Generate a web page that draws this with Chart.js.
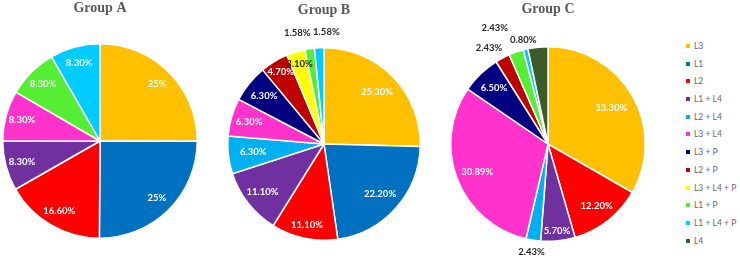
<!DOCTYPE html>
<html>
<head>
<meta charset="utf-8">
<script src="https://cdn.jsdelivr.net/npm/chart.js@4.4.1/dist/chart.umd.min.js"></script>
<style>
  html, body { margin: 0; padding: 0; background: #fff; }
  body { width: 740px; height: 258px; position: relative; overflow: hidden; }
  canvas { position: absolute; top: 0; }
  #legend { position: absolute; left: 686px; top: 41px; margin: 0; padding: 0; list-style: none;
    font: 8.5px Lato, "Liberation Sans", sans-serif; color: #666; }
  #legend li { height: 17.7px; line-height: 10px; white-space: nowrap; }
  #legend span { display: inline-block; width: 4px; height: 4px; margin-right: 4px; vertical-align: 1px; }
</style>
</head>
<body>
<canvas id="pieA" width="200" height="258" style="left:0px"></canvas>
<canvas id="pieB" width="200" height="258" style="left:224px"></canvas>
<canvas id="pieC" width="200" height="258" style="left:448px"></canvas>
<ul id="legend"></ul>
<script>
/* =====================
  Data
===================== */
var categories = ['L3', 'L1', 'L2', 'L1 + L4', 'L2 + L4', 'L3 + L4', 'L3 + P', 'L2 + P', 'L3 + L4 + P', 'L1 + P', 'L1 + L4 + P', 'L4']
var colors = ['#FFC000', '#0070C0', '#FF0000', '#7030A0', '#00B0F0', '#FF33CC', '#000080', '#C00000', '#FFFF00', '#55EE33', '#00CCFF', '#3B5B2A']

var groupA = [25, 25, 16.6, 8.3, 0, 8.3, 0, 0, 0, 8.3, 8.3, 0]
var groupB = [25.3, 22.2, 11.1, 11.1, 6.3, 6.3, 6.3, 4.7, 3.1, 1.58, 1.58, 0]
var groupC = [33.3, 0, 12.2, 5.7, 2.43, 30.89, 6.5, 2.43, 0, 2.43, 0.8, 3.3]

// L4 in group C carries no label in the original
var hiddenC = [11]

/* =====================
  Label placement (style only)
===================== */
// radius factor, x nudge, dark text
var styleA = { r: [0.83, 0.83, 0.83, 0.83, 0, 0.83, 0, 0, 0, 0.83, 0.83, 0] }
var styleB = {
  r: [0.77, 0.78, 0.86, 0.81, 0.74, 0.81, 0.8, 0.87, 0.87, 1.17, 1.17, 0],
  dx: { 9: -10, 10: 8 },
  dark: [8, 9, 10]
}
var styleC = {
  r: [0.75, 0, 0.81, 0.9, 1.12, 0.78, 0.8, 1.12, 0, 1.26, 1.1, 0],
  dx: { 7: -8, 9: -13 },
  dark: [4, 7, 9, 10]
}

var fmt = function (v) {
  return (v % 1 === 0) ? v + '%' : v.toFixed(2) + '%'
}

// draws the percentage next to each slice
var sliceLabels = {
  id: 'sliceLabels',
  afterDatasetsDraw: function (chart, args, opts) {
    var ctx = chart.ctx
    var meta = chart.getDatasetMeta(0)
    var values = chart.data.datasets[0].data
    var st = opts.style
    ctx.save()
    ctx.font = 'bold 9.5px Lato, "Liberation Sans", sans-serif'
    ctx.textAlign = 'center'
    ctx.textBaseline = 'middle'
    meta.data.forEach(function (arc, i) {
      if (!values[i]) return
      if (opts.hidden && opts.hidden.indexOf(i) >= 0) return
      var p = arc.getProps(['x', 'y', 'startAngle', 'endAngle', 'outerRadius'], true)
      var mid = (p.startAngle + p.endAngle) / 2
      var rr = p.outerRadius * st.r[i]
      var dx = (st.dx && st.dx[i]) || 0
      ctx.fillStyle = (st.dark && st.dark.indexOf(i) >= 0) ? '#262626' : '#ffffff'
      ctx.fillText(fmt(values[i]), p.x + Math.cos(mid) * rr + dx, p.y + Math.sin(mid) * rr)
    })
    ctx.restore()
  }
}

var makePie = function (id, title, values, style, hidden, pad) {
  var ctx = document.getElementById(id).getContext('2d')
  return new Chart(ctx, {
    type: 'pie',
    data: {
      labels: categories,
      datasets: [{
        data: values,
        backgroundColor: colors,
        borderColor: '#ffffff',
        borderWidth: 1.5
      }]
    },
    options: {
      responsive: false,
      animation: false,
      layout: { padding: pad },
      plugins: {
        legend: { display: false },
        tooltip: { enabled: false },
        title: {
          display: true,
          text: title,
          color: '#595959',
          font: { family: '"Liberation Serif", serif', size: 14, weight: 'bold' },
          padding: { top: 0, bottom: pad.gap }
        },
        sliceLabels: { style: style, hidden: hidden }
      }
    },
    plugins: [sliceLabels]
  })
}

makePie('pieA', 'Group A', groupA, styleA, null, { left: 2, right: 2, top: 0, bottom: 19, gap: 26.2 })
makePie('pieB', 'Group B', groupB, styleB, null, { left: 3, right: 3, top: 2, bottom: 17, gap: 28.2 })
makePie('pieC', 'Group C', groupC, styleC, hiddenC, { left: 2, right: 2, top: 1, bottom: 16, gap: 28.2 })

// Legend
var legend = document.getElementById('legend')
categories.forEach(function (c, i) {
  var li = document.createElement('li')
  li.innerHTML = '<span style="background:' + colors[i] + '"></span>' + c
  legend.appendChild(li)
})
</script>
</body>
</html>
